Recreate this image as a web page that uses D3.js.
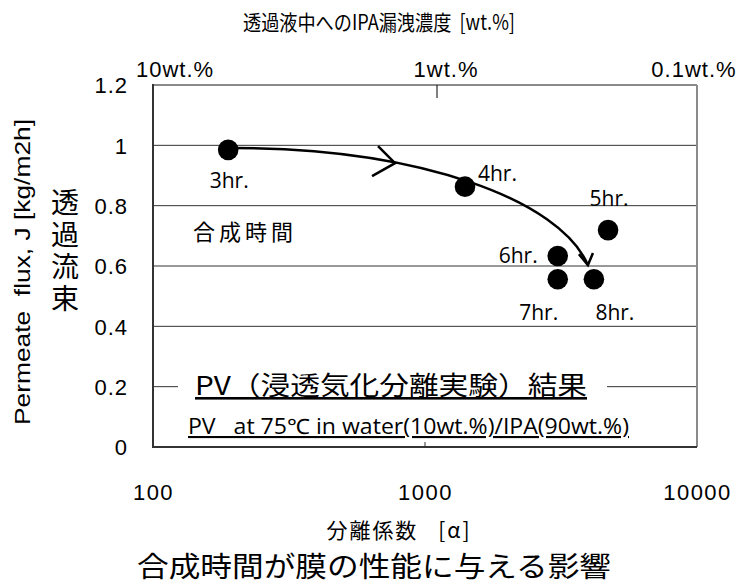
<!DOCTYPE html>
<html>
<head>
<meta charset="utf-8">
<script src="https://cdn.jsdelivr.net/npm/d3@7"></script>
<style>
  body { margin: 0; background: #fff; }
  .num { font-family: "Liberation Sans", Arial, sans-serif; font-size: 22px; fill: #000; }
  .jp { font-family: "Noto Sans CJK JP", sans-serif; fill: #000; }
  .lat { font-family: "Open Sans", sans-serif; fill: #000; }
</style>
</head>
<body>
<svg id="chart" width="746" height="586"></svg>
<script>
// 合成時間ごとの PV 結果
const hours = ["3hr.", "4hr.", "5hr.", "6hr.", "7hr.", "8hr."];
const alpha = [189, 1403, 4710, 3076, 3076, 4178];
const flux = [0.985, 0.863, 0.719, 0.633, 0.556, 0.556];

const xTicks = [100, 1000, 10000];
const yTicks = [0, 0.2, 0.4, 0.6, 0.8, 1, 1.2];
const topTicks = [10, 1, 0.1];
const topTickLabels = ["10wt.%", "1wt.%", "0.1wt.%"];

// arrow drawn along the trend (alpha, flux)
const arrowCurve = [[197, 0.991], [959, 0.991], [3133, 0.819], [3972, 0.603]];
const arrowMid = [776, 0.941];

const svg = d3.select("#chart");
const pLeft = 153, pRight = 697, pTop = 85, pBottom = 447;

const x = d3.scaleLog().domain([100, 10000]).range([pLeft, pRight]);
const y = d3.scaleLinear().domain([0, 1.2]).range([pBottom, pTop]);
const xTop = d3.scaleLog().domain([10, 0.1]).range([175, 699]);

// gridlines
svg.append("g").selectAll("line")
  .data(yTicks)
  .join("line")
  .attr("x1", pLeft).attr("x2", pRight)
  .attr("y1", d => y(d)).attr("y2", d => y(d))
  .attr("stroke", "#333").attr("stroke-width", 1);

// frame
svg.append("line").attr("x1", pLeft).attr("x2", pRight).attr("y1", pTop).attr("y2", pTop)
  .attr("stroke", "#8a8a8a").attr("stroke-width", 2);
svg.append("line").attr("x1", pRight).attr("x2", pRight).attr("y1", pTop).attr("y2", pBottom)
  .attr("stroke", "#8a8a8a").attr("stroke-width", 2);
svg.append("line").attr("x1", pLeft).attr("x2", pLeft).attr("y1", pTop - 1).attr("y2", pBottom + 1)
  .attr("stroke", "#333").attr("stroke-width", 2);
svg.append("line").attr("x1", pLeft).attr("x2", pRight).attr("y1", pBottom).attr("y2", pBottom)
  .attr("stroke", "#333").attr("stroke-width", 2);

// small ticks at 1000 and 1wt.%
svg.append("line").attr("x1", x(1000)).attr("x2", x(1000)).attr("y1", pBottom).attr("y2", pBottom - 5)
  .attr("stroke", "#333");
svg.append("line").attr("x1", xTop(1)).attr("x2", xTop(1)).attr("y1", pTop).attr("y2", pTop + 13)
  .attr("stroke", "#000");

// y axis labels
const yAxis = svg.append("g")
  .attr("transform", `translate(${pLeft},0)`)
  .call(d3.axisLeft(y).tickValues(yTicks).tickSize(0).tickPadding(25).tickFormat(d3.format("~g")));
yAxis.select(".domain").remove();
yAxis.selectAll("text").attr("class", "num").attr("font-family", null).attr("font-size", null)
  .attr("letter-spacing", 1).attr("dy", "0.36em");

// x axis labels
const xAxis = svg.append("g")
  .attr("transform", `translate(0,${pBottom})`)
  .call(d3.axisBottom(x).tickValues(xTicks).tickSize(0).tickPadding(0).tickFormat(d3.format("d")));
xAxis.select(".domain").remove();
xAxis.selectAll("text").attr("class", "num").attr("font-family", null).attr("font-size", null)
  .attr("letter-spacing", 1.5).attr("y", 53).attr("dy", 0);

// top axis labels
svg.append("g").selectAll("text")
  .data(topTicks)
  .join("text")
  .attr("class", "num")
  .attr("x", (d, i) => xTop(d) + (i === 1 ? 9 : (i === 2 ? -5 : 0)))
  .attr("y", 77)
  .attr("text-anchor", "middle")
  .attr("font-size", 23)
  .attr("letter-spacing", 1)
  .text((d, i) => topTickLabels[i]);

// annotation box on the 0.2 line
svg.append("rect")
  .attr("x", 178).attr("y", y(0.2) - 22).attr("width", 429).attr("height", 34)
  .attr("fill", "#fff");
svg.append("text")
  .attr("class", "jp")
  .attr("x", 195).attr("y", 395)
  .attr("font-size", 26)
  .attr("textLength", 392).attr("lengthAdjust", "spacingAndGlyphs")
  .attr("text-decoration", "underline")
  .text("PV（浸透気化分離実験）結果");
svg.append("text")
  .attr("class", "lat")
  .attr("x", 188).attr("y", 434)
  .attr("font-size", 21)
  .attr("textLength", 441).attr("lengthAdjust", "spacingAndGlyphs")
  .attr("text-decoration", "underline")
  .style("white-space", "pre")
  .text("PV   at 75℃ in water(10wt.%)/IPA(90wt.%)");

// trend arrow
const cp = arrowCurve.map(d => [x(d[0]), y(d[1])]);
const path = d3.path();
path.moveTo(cp[0][0], cp[0][1]);
path.bezierCurveTo(cp[1][0], cp[1][1], cp[2][0], cp[2][1], cp[3][0], cp[3][1]);
svg.append("path").attr("d", path.toString())
  .attr("fill", "none").attr("stroke", "#000").attr("stroke-width", 2.5);

const mx = x(arrowMid[0]), my = y(arrowMid[1]);
svg.append("path")
  .attr("d", `M${mx - 17},${my - 17}L${mx},${my}L${mx - 23},${my + 13}`)
  .attr("fill", "none").attr("stroke", "#000").attr("stroke-width", 2.5);
const ex = cp[3][0], ey = cp[3][1];
svg.append("path")
  .attr("d", `M${ex - 9},${ey - 11}L${ex},${ey}L${ex + 5},${ey - 12}`)
  .attr("fill", "none").attr("stroke", "#000").attr("stroke-width", 2.5);

// points
const pts = hours.map((h, i) => ({h, a: alpha[i], f: flux[i]}));
svg.append("g").selectAll("circle")
  .data(pts)
  .join("circle")
  .attr("cx", d => x(d.a))
  .attr("cy", d => y(d.f))
  .attr("r", 10.3)
  .attr("fill", "#000");

// point labels
const labelPos = [
  {dx: 1, dy: 38, anchor: "middle"},
  {dx: 13, dy: -6, anchor: "start"},
  {dx: 1, dy: -24, anchor: "middle"},
  {dx: -20, dy: 7, anchor: "end"},
  {dx: -19, dy: 41, anchor: "middle"},
  {dx: 21, dy: 41, anchor: "middle"}
];
svg.append("g").selectAll("text")
  .data(pts)
  .join("text")
  .attr("class", "lat")
  .attr("font-size", 21)
  .attr("x", (d, i) => x(d.a) + labelPos[i].dx)
  .attr("y", (d, i) => y(d.f) + labelPos[i].dy)
  .attr("text-anchor", (d, i) => labelPos[i].anchor)
  .text(d => d.h);

svg.append("text")
  .attr("class", "jp")
  .attr("x", 193).attr("y", 240)
  .attr("font-size", 22)
  .attr("textLength", 100)
  .text("合成時間");

// titles
svg.append("text")
  .attr("class", "jp")
  .attr("x", 379).attr("y", 30)
  .attr("text-anchor", "middle")
  .attr("font-size", 21)
  .attr("textLength", 272).attr("lengthAdjust", "spacingAndGlyphs")
  .style("white-space", "pre")
  .text("透過液中へのIPA漏洩濃度  [wt.%]");

svg.append("text")
  .attr("class", "jp")
  .attr("x", 398).attr("y", 538)
  .attr("text-anchor", "middle")
  .attr("font-size", 21)
  .attr("textLength", 143)
  .style("white-space", "pre")
  .text("分離係数   [α]");

svg.append("text")
  .attr("class", "jp")
  .attr("x", 374).attr("y", 577)
  .attr("text-anchor", "middle")
  .attr("font-size", 28)
  .attr("textLength", 474).attr("lengthAdjust", "spacingAndGlyphs")
  .text("合成時間が膜の性能に与える影響");

svg.append("text")
  .attr("class", "num")
  .attr("transform", "translate(30,272) rotate(-90)")
  .attr("text-anchor", "middle")
  .attr("font-size", 22)
  .attr("textLength", 306).attr("lengthAdjust", "spacingAndGlyphs")
  .style("white-space", "pre")
  .text("Permeate  flux, J [kg/m2h]");

svg.append("text")
  .attr("class", "jp")
  .attr("x", 65).attr("y", 188)
  .attr("font-size", 28)
  .attr("letter-spacing", 4)
  .style("writing-mode", "vertical-rl")
  .text("透過流束");
</script>
</body>
</html>
